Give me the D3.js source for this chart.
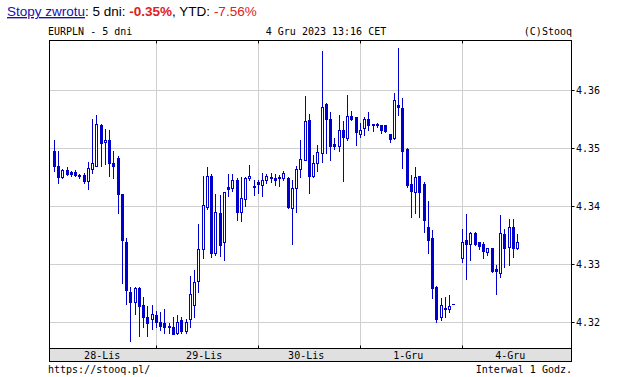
<!DOCTYPE html>
<html><head><meta charset="utf-8">
<script src="https://cdn.jsdelivr.net/npm/d3@7/dist/d3.min.js"></script>
<style>body{margin:0;background:#fff}svg{display:block}</style>
</head><body>
<svg id="c" width="643" height="377"></svg>
<script>
// ---- data ----
const days = ["28-Lis", "29-Lis", "30-Lis", "1-Gru", "4-Gru"];
const hoursPerDay = 24;
const yTicks = [4.32, 4.33, 4.34, 4.35, 4.36];
// hourly candles, slot order (null = no quote)
const open = [4.3495,4.3470,4.3451,4.3462,4.3459,4.3459,4.3454,4.3454,4.3443,4.3465,
4.3470,4.3540,4.3510,4.3514,4.3474,4.3483,4.3421,4.3339,4.3253,4.3235,
4.3260,4.3230,4.3210,4.3206,4.3213,4.3202,4.3199,4.3194,4.3192,4.3182,
4.3205,4.3186,4.3206,4.3230,4.3271,4.3326,4.3399,4.3452,4.3320,4.3388,
4.3339,4.3433,4.3432,4.3446,4.3391,4.3412,4.3448,4.3435,4.3442,4.3437,
4.3445,4.3451,4.3449,4.3451,4.3449,4.3449,4.3398,4.3432,4.3465,4.3480,
4.3548,4.3452,4.3474,4.3492,4.3576,4.3551,4.3507,4.3503,4.3531,4.3518,
4.3555,4.3553,4.3524,4.3534,4.3550,4.3541,4.3542,4.3539,4.3539,4.3524,
4.3517,4.3575,4.3569,4.3498,4.3438,4.3425,4.3452,4.3438,4.3364,4.3346,
4.3262,4.3209,4.3226,4.3223,4.3232,null,4.3311,4.3342,4.3336,4.3355,
4.3338,4.3336,4.3322,4.3328,4.3293,4.3285,4.3352,4.3331,4.3364,4.3328];
const high = [4.3514,4.3495,4.3465,4.3467,4.3461,4.3462,4.3456,4.3458,4.3477,4.3550,
4.3557,4.3542,4.3533,4.3531,4.3495,4.3487,4.3422,4.3346,4.3262,4.3261,
4.3261,4.3245,4.3228,4.3230,4.3221,4.3219,4.3224,4.3199,4.3209,4.3213,
4.3209,4.3207,4.3281,4.3291,4.3370,4.3452,4.3468,4.3456,4.3422,4.3419,
4.3424,4.3455,4.3455,4.3449,4.3450,4.3451,4.3471,4.3446,4.3446,4.3458,
4.3456,4.3457,4.3455,4.3454,4.3461,4.3451,4.3445,4.3469,4.3514,4.3590,
4.3559,4.3488,4.3505,4.3667,4.3578,4.3563,4.3517,4.3557,4.3546,4.3591,
4.3564,4.3554,4.3543,4.3554,4.3563,4.3541,4.3544,4.3540,4.3540,4.3525,
4.3595,4.3673,4.3587,4.3501,4.3454,4.3468,4.3453,4.3442,4.3409,4.3359,
4.3263,4.3242,4.3245,4.3248,4.3232,null,4.3361,4.3387,4.3356,4.3356,
4.3339,4.3339,4.3328,4.3329,4.3299,4.3385,4.3361,4.3378,4.3378,4.3352];
const low = [4.3461,4.3441,4.3448,4.3454,4.3453,4.3452,4.3449,4.3441,4.3430,4.3458,
4.3469,4.3470,4.3472,4.3453,4.3449,4.3388,4.3268,4.3233,4.3169,4.3215,
4.3178,4.3193,4.3178,4.3190,4.3193,4.3187,4.3183,4.3182,4.3180,4.3180,
4.3182,4.3183,4.3193,4.3210,4.3253,4.3312,4.3395,4.3313,4.3316,4.3315,
4.3308,4.3418,4.3427,4.3377,4.3374,4.3401,4.3445,4.3419,4.3423,4.3417,
4.3441,4.3442,4.3436,4.3435,4.3446,4.3398,4.3335,4.3391,4.3450,4.3479,
4.3423,4.3451,4.3460,4.3477,4.3491,4.3480,4.3498,4.3495,4.3444,4.3514,
4.3548,4.3505,4.3520,4.3523,4.3531,4.3530,4.3536,4.3526,4.3527,4.3511,
4.3516,4.3557,4.3466,4.3434,4.3381,4.3388,4.3381,4.3356,4.3319,4.3243,
4.3202,4.3205,4.3210,4.3219,4.3232,null,4.3305,4.3275,4.3307,4.3333,
4.3326,4.3311,4.3317,4.3288,4.3249,4.3279,4.3295,4.3299,4.3313,4.3326];
const close = [4.3470,4.3450,4.3462,4.3456,4.3456,4.3454,4.3452,4.3444,4.3466,4.3474,
4.3541,4.3509,4.3514,4.3475,4.3470,4.3422,4.3343,4.3257,4.3236,4.3260,
4.3229,4.3209,4.3200,4.3215,4.3202,4.3195,4.3192,4.3193,4.3181,4.3202,
4.3186,4.3201,4.3249,4.3270,4.3327,4.3402,4.3452,4.3320,4.3390,4.3334,
4.3424,4.3429,4.3446,4.3391,4.3414,4.3449,4.3452,4.3433,4.3439,4.3445,
4.3452,4.3448,4.3446,4.3449,4.3457,4.3399,4.3432,4.3464,4.3481,4.3547,
4.3452,4.3474,4.3493,4.3570,4.3550,4.3504,4.3503,4.3531,4.3519,4.3556,
4.3551,4.3527,4.3532,4.3551,4.3539,4.3539,4.3540,4.3532,4.3530,4.3516,
4.3583,4.3570,4.3495,4.3437,4.3427,4.3451,4.3425,4.3377,4.3342,4.3259,
4.3207,4.3230,4.3223,4.3228,4.3232,null,4.3338,4.3336,4.3355,4.3336,
4.3332,4.3323,4.3328,4.3289,4.3289,4.3355,4.3329,4.3364,4.3328,4.3338];

// ---- layout ----
const svg = d3.select("#c");
const L = 49.5, R = 571.5, T = 40.5, B = 348.5, BB = 361.5;
const x = d3.scaleLinear().domain([-1.13, 121.69]).range([L, R]);
const y = d3.scaleLinear().domain([4.31557, 4.36851]).range([B, T]);
const blue = "#0000cc", grid = "#cfcfcf";
const mono = "'DejaVu Sans Mono', 'Liberation Mono', monospace";
const px = v => Math.floor(v) + 0.5;

// title
const title = svg.append("text").attr("x", 7).attr("y", 16)
  .attr("font-family", "'Liberation Sans', Arial, sans-serif").attr("font-size", 13.5).attr("fill", "#000");
title.append("tspan").attr("fill", "#1a0dab").attr("text-decoration", "underline").text("Stopy zwrotu");
title.append("tspan").text(": 5 dni: ");
title.append("tspan").attr("fill", "#e0201f").attr("font-weight", "bold").text("-0.35%");
title.append("tspan").text(", YTD: ");
title.append("tspan").attr("fill", "#e0201f").text("-7.56%");

// header line
const hdr = svg.append("g").attr("font-family", mono).attr("font-size", 10).attr("fill", "#000");
hdr.append("text").attr("x", 48).attr("y", 35).text("EURPLN - 5 dni");
hdr.append("text").attr("x", 326).attr("y", 35).attr("text-anchor", "middle").text("4 Gru 2023 13:16 CET");
hdr.append("text").attr("x", 572).attr("y", 35).attr("text-anchor", "end").text("(C)Stooq");

// grids
const dayStarts = d3.range(1, days.length).map(d => d * hoursPerDay);
svg.append("g").selectAll("line").data(yTicks).join("line")
  .attr("x1", L).attr("x2", R).attr("y1", d => px(y(d))).attr("y2", d => px(y(d)))
  .attr("stroke", grid);
svg.append("g").selectAll("line").data(dayStarts).join("line")
  .attr("x1", d => px(x(d))).attr("x2", d => px(x(d))).attr("y1", T).attr("y2", B)
  .attr("stroke", grid);

// candles
const idx = d3.range(open.length).filter(i => open[i] !== null);
const g = svg.append("g");
g.selectAll("line.w").data(idx).join("line").attr("class", "w")
  .attr("x1", i => px(x(i))).attr("x2", i => px(x(i)))
  .attr("y1", i => Math.round(y(high[i]))).attr("y2", i => Math.round(y(low[i])) + 1)
  .attr("stroke", blue).attr("stroke-width", 1);
idx.forEach(i => {
  const cx = Math.floor(x(i));
  const top = Math.round(y(Math.max(open[i], close[i])));
  const bot = Math.round(y(Math.min(open[i], close[i])));
  const up = close[i] > open[i];
  if (up && bot - top >= 2) {
    g.append("rect").attr("x", cx - 0.5).attr("y", top + 0.5).attr("width", 2).attr("height", bot - top)
      .attr("fill", "#fff").attr("stroke", blue).attr("stroke-width", 1);
  } else {
    g.append("rect").attr("x", cx - 1).attr("y", top).attr("width", 3).attr("height", Math.max(1, bot - top + 1))
      .attr("fill", blue);
  }
});

// frame
svg.append("rect").attr("x", L).attr("y", B).attr("width", R - L).attr("height", BB - B)
  .attr("fill", "#e0e0e0").attr("stroke", "#000");
svg.append("rect").attr("x", L).attr("y", T).attr("width", R - L).attr("height", B - T)
  .attr("fill", "none").attr("stroke", "#000");

// x ticks (inward at top and bottom)
svg.append("g").selectAll("line").data(dayStarts).join("line")
  .attr("x1", d => px(x(d))).attr("x2", d => px(x(d))).attr("y1", T).attr("y2", T + 3).attr("stroke", "#000");
svg.append("g").selectAll("line").data(dayStarts).join("line")
  .attr("x1", d => px(x(d))).attr("x2", d => px(x(d))).attr("y1", B - 3).attr("y2", B).attr("stroke", "#000");

// x labels
svg.append("g").attr("font-family", mono).attr("font-size", 10).selectAll("text").data(days).join("text")
  .attr("x", (d, k) => x(k * hoursPerDay + 11.5) - 1).attr("y", 358.5)
  .attr("text-anchor", "middle").text(d => d);

// y axis on right
const ya = svg.append("g");
ya.selectAll("line").data(yTicks).join("line")
  .attr("x1", R).attr("x2", R + 3).attr("y1", d => px(y(d))).attr("y2", d => px(y(d))).attr("stroke", "#000");
ya.selectAll("text").data(yTicks).join("text")
  .attr("x", 576).attr("y", d => y(d) + 3.5)
  .attr("font-family", mono).attr("font-size", 10).text(d => d3.format(".2f")(d));

// footer
const ft = svg.append("g").attr("font-family", mono).attr("font-size", 10);
ft.append("text").attr("x", 48).attr("y", 373).text("https://stooq.pl/");
ft.append("text").attr("x", 572).attr("y", 373).attr("text-anchor", "end").text("Interwal 1 Godz.");
</script>
</body></html>
